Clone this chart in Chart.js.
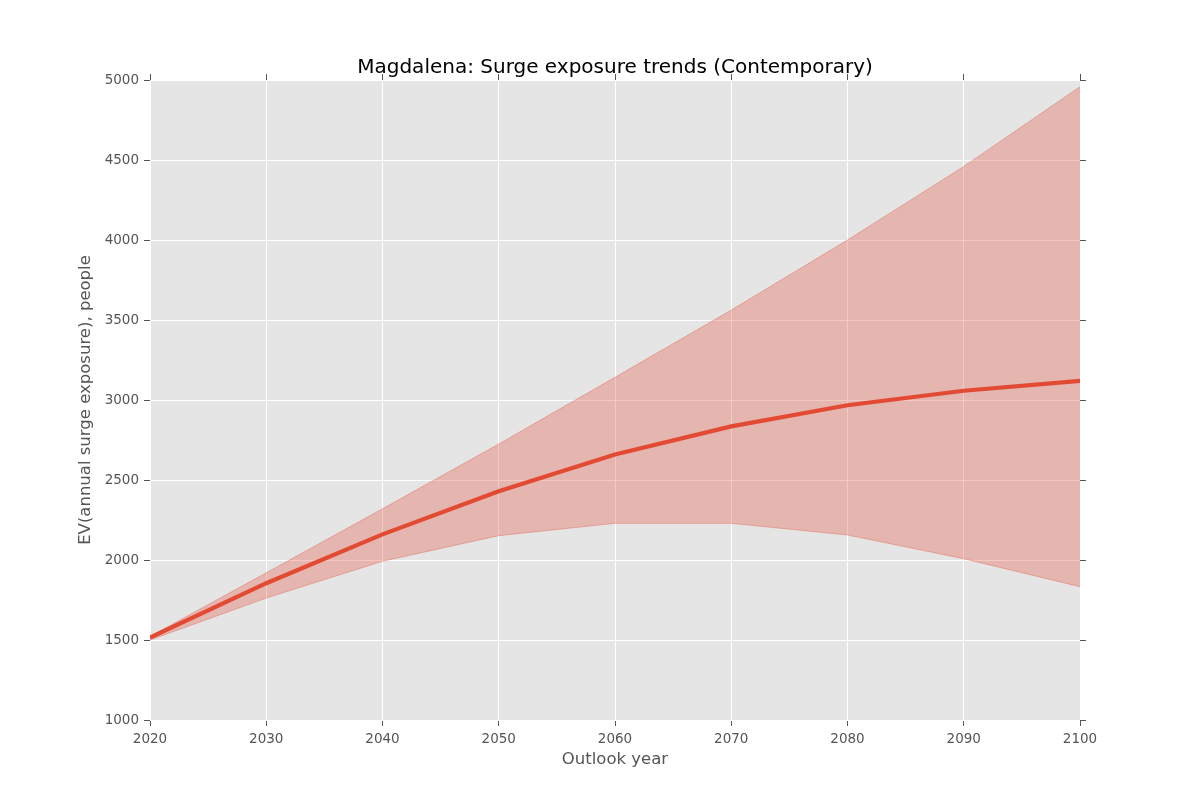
<!DOCTYPE html>
<html>
<head>
<meta charset="utf-8">
<script src="https://cdn.jsdelivr.net/npm/chart.js@4.4.1/dist/chart.umd.min.js"></script>
<style>
  body { margin: 0; background: #fff; }
  canvas { display: block; }
</style>
</head>
<body>
<canvas id="chart" width="1200" height="800"></canvas>
<script>
// Werte
const years = [2020, 2030, 2040, 2050, 2060, 2070, 2080, 2090, 2100];
const meanExposure = [1515, 1855, 2160, 2430, 2660, 2835, 2967, 3058, 3120];
const upperExposure = [1522, 1920, 2320, 2725, 3142, 3562, 4000, 4460, 4958];
const lowerExposure = [1500, 1762, 1992, 2152, 2229, 2229, 2156, 2008, 1833];
const xTicks = [2020, 2030, 2040, 2050, 2060, 2070, 2080, 2090, 2100];
const yTicks = [1000, 1500, 2000, 2500, 3000, 3500, 4000, 4500, 5000];

const chartTitle = 'Magdalena: Surge exposure trends (Contemporary)';
const font = 'DejaVu Sans';

function toPoints(vals) {
    return years.map((y, i) => ({ x: y, y: vals[i] }));
}

// grauer Hintergrund und Titel
const ggplotBg = {
    id: 'ggplotBg',
    beforeDraw(chart) {
        const { ctx, chartArea: a } = chart;
        ctx.save();
        ctx.fillStyle = '#E5E5E5';
        ctx.fillRect(a.left, a.top, a.right - a.left, a.bottom - a.top);
        ctx.restore();
    },
    afterDraw(chart) {
        const { ctx, chartArea: a } = chart;
        ctx.save();
        ctx.fillStyle = '#000';
        ctx.font = '20px "' + font + '"';
        ctx.textAlign = 'center';
        ctx.textBaseline = 'middle';
        ctx.fillText(chartTitle, (a.left + a.right) / 2, 68);
        ctx.restore();
    }
};

const tickOpts = {
    color: '#555',
    font: { family: font, size: 13.5 },
    padding: 5,
    autoSkip: false,
    maxRotation: 0,
    callback: v => String(v)
};

new Chart(document.getElementById('chart').getContext('2d'), {
    type: 'line',
    data: {
        datasets: [
            {
                label: 'mean',
                data: toPoints(meanExposure),
                borderColor: '#E24A33',
                borderWidth: 4.2,
                pointRadius: 0,
                fill: false
            },
            {
                label: 'upper',
                data: toPoints(upperExposure),
                borderColor: 'rgba(226,74,51,0.35)',
                borderWidth: 1,
                backgroundColor: 'rgba(226,74,51,0.3)',
                pointRadius: 0,
                fill: '+1'
            },
            {
                label: 'lower',
                data: toPoints(lowerExposure),
                borderColor: 'rgba(226,74,51,0.35)',
                borderWidth: 1,
                pointRadius: 0,
                fill: false
            }
        ]
    },
    options: {
        responsive: false,
        animation: false,
        devicePixelRatio: 1,
        layout: { padding: { left: 0, right: 114, top: 74, bottom: 0 } },
        plugins: {
            legend: { display: false },
            tooltip: { enabled: false }
        },
        scales: {
            x: {
                type: 'linear',
                position: 'bottom',
                min: xTicks[0],
                max: xTicks[xTicks.length - 1],
                afterBuildTicks: s => { s.ticks = xTicks.map(v => ({ value: v })); },
                afterFit: s => { s.height = 80; },
                grid: { color: '#fff', lineWidth: 1, tickLength: 6, tickColor: '#555' },
                border: { display: false },
                ticks: tickOpts,
                title: {
                    display: true,
                    text: 'Outlook year',
                    color: '#555',
                    font: { family: font, size: 16.5 },
                    padding: { top: 0, bottom: 30 }
                }
            },
            y: {
                type: 'linear',
                position: 'left',
                min: yTicks[0],
                max: yTicks[yTicks.length - 1],
                afterBuildTicks: s => { s.ticks = yTicks.map(v => ({ value: v })); },
                afterFit: s => { s.width = 150; },
                grid: { color: '#fff', lineWidth: 1, tickLength: 6, tickColor: '#555' },
                border: { display: false },
                ticks: tickOpts,
                title: {
                    display: true,
                    text: 'EV(annual surge exposure), people',
                    color: '#555',
                    font: { family: font, size: 16.5 },
                    padding: { top: 76, bottom: 0 }
                }
            },
            x2: {
                type: 'linear',
                position: 'top',
                min: xTicks[0],
                max: xTicks[xTicks.length - 1],
                afterBuildTicks: s => { s.ticks = xTicks.map(v => ({ value: v })); },
                afterFit: s => { s.height = 6; },
                grid: { drawOnChartArea: false, tickLength: 6, tickColor: '#555' },
                border: { display: false },
                ticks: { display: false }
            },
            y2: {
                type: 'linear',
                position: 'right',
                min: yTicks[0],
                max: yTicks[yTicks.length - 1],
                afterBuildTicks: s => { s.ticks = yTicks.map(v => ({ value: v })); },
                afterFit: s => { s.width = 6; },
                grid: { drawOnChartArea: false, tickLength: 6, tickColor: '#555' },
                border: { display: false },
                ticks: { display: false }
            }
        }
    },
    plugins: [ggplotBg]
});
</script>
</body>
</html>
